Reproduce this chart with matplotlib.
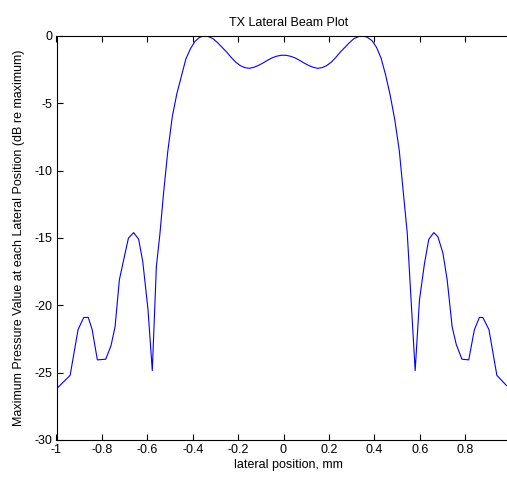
import matplotlib
matplotlib.use("Agg")
import matplotlib.pyplot as plt

# lateral position (mm) and max pressure (dB re maximum)
lateral_mm = [
    -1.0, -0.94, -0.905, -0.88, -0.86, -0.843, -0.82, -0.783, -0.76, -0.742,
    -0.723, -0.70, -0.683, -0.66, -0.638, -0.62, -0.597, -0.578, -0.56, -0.545,
    -0.528, -0.51, -0.49, -0.47, -0.45, -0.43, -0.41, -0.39, -0.37, -0.35,
    -0.33, -0.31, -0.29, -0.27, -0.25, -0.23, -0.21, -0.19, -0.17, -0.15,
    -0.13, -0.11, -0.09, -0.07, -0.05, -0.03, -0.01, 0.01, 0.03, 0.05,
    0.07, 0.09, 0.11, 0.13, 0.15, 0.17, 0.19, 0.21, 0.23, 0.25,
    0.27, 0.29, 0.31, 0.33, 0.35, 0.37, 0.39, 0.41, 0.43, 0.45,
    0.47, 0.49, 0.51, 0.53, 0.545, 0.56, 0.58, 0.599, 0.621, 0.64,
    0.662, 0.68, 0.702, 0.721, 0.743, 0.761, 0.786, 0.816, 0.841, 0.863,
    0.878, 0.905, 0.94, 0.982,
]
pressure_db = [
    -26.2, -25.2, -21.8, -20.9, -20.9, -21.8, -24.05, -24.0, -23.0, -21.6,
    -18.1, -16.3, -15.0, -14.6, -15.1, -16.75, -20.3, -24.85, -17.1, -14.8,
    -11.6, -8.6, -6.0, -4.3, -3.0, -1.7, -0.95, -0.4, -0.1, 0.0,
    -0.05, -0.2, -0.5, -0.85, -1.2, -1.6, -1.95, -2.2, -2.35, -2.4,
    -2.32, -2.18, -2.0, -1.8, -1.62, -1.5, -1.43, -1.43, -1.5, -1.62,
    -1.8, -2.0, -2.18, -2.32, -2.4, -2.35, -2.2, -1.95, -1.6, -1.2,
    -0.85, -0.5, -0.2, -0.05, 0.0, -0.1, -0.35, -0.85, -1.65, -2.9,
    -4.4, -6.2, -8.5, -12.0, -14.6, -19.0, -24.85, -19.6, -16.9, -15.1,
    -14.6, -14.9, -16.1, -18.1, -21.6, -22.9, -24.0, -24.05, -21.8, -20.9,
    -20.9, -21.8, -25.2, -25.95,
]
x_ticks = [-1, -0.8, -0.6, -0.4, -0.2, 0, 0.2, 0.4, 0.6, 0.8]
x_labels = ["-1", "-0.8", "-0.6", "-0.4", "-0.2", "0", "0.2", "0.4", "0.6", "0.8"]
y_ticks = [-30, -25, -20, -15, -10, -5, 0]

plt.rcParams["font.family"] = ["Liberation Sans", "DejaVu Sans"]
plt.rcParams["font.size"] = 9
plt.rcParams["axes.unicode_minus"] = False

fig = plt.figure(figsize=(5.07, 4.84), dpi=100)
# right spine sits just past the image edge, as in the reference
ax = fig.add_axes([56.5 / 507, 44 / 484, (521 - 56.5) / 507, 404 / 484])
ax.plot(lateral_mm, pressure_db, color=(0, 0, 1), lw=0.8)

ax.set_xlim(-1, -1 + (521 - 56.5) / 227)
ax.set_ylim(-30, 0)
ax.set_xticks(x_ticks)
ax.set_xticklabels(x_labels)
ax.set_yticks(y_ticks)
ax.tick_params(direction="in", top=True, right=True, length=4, width=0.8, pad=3)
for s in ax.spines.values():
    s.set_linewidth(0.8)

ax.set_title("TX Lateral Beam Plot", fontsize=9, pad=7)
ax.set_xlabel("lateral position, mm", labelpad=2)
ax.set_ylabel("Maximum Pressure Value at each Lateral Position (dB re maximum)", labelpad=7)

fig.savefig("out.png", dpi=100)
